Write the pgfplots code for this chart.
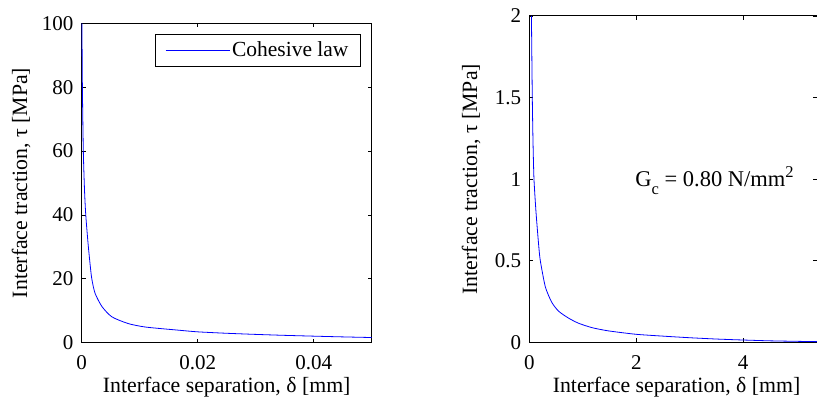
\documentclass[border=0pt]{standalone}
\usepackage{pgfplots}
\pgfplotsset{compat=1.18}
\usepackage{fontspec}
\setmainfont{Liberation Serif}
\pgfplotsset{
  every axis/.append style={
    scale only axis,
    axis line style={line width=1pt, black},
    every tick/.style={black, line width=0.8pt},
    tick align=inside,
    major tick length=4pt,
    /pgf/number format/assume math mode=true,
    scaled ticks=false,
    tick label style={font=\fontsize{21}{25}\selectfont},
    label style={font=\fontsize{21.8}{26}\selectfont},
    xticklabel style={yshift=-6pt},
    yticklabel style={xshift=-1pt},
  },
}
\begin{document}
\fontsize{21}{25}\selectfont
\begin{tikzpicture}
\useasboundingbox (-81.7pt,-56.3pt) rectangle (735.3pt,342.7pt);
\begin{axis}[
  at={(0pt,0pt)}, anchor=south west,
  width=290pt, height=319.4pt,
  xmin=0, xmax=0.05, ymin=0, ymax=100,
  xtick={0,0.02,0.04}, xticklabels={0,0.02,0.04},
  ytick={0,20,40,60,80,100},
  xlabel={Interface separation, δ [mm]},
  ylabel={Interface traction, τ [MPa]},
  xlabel style={at={(axis description cs:0.5,-0.14)}, anchor=center},
  ylabel style={at={(axis description cs:-0.209,0.5)}, anchor=center},
  legend style={at={(axis description cs:0.963,0.9656)}, anchor=north east,
    fill=white, line width=0.9pt, font=\fontsize{21.5}{25}\selectfont, inner xsep=10pt, inner ysep=5pt},
  legend image code/.code={\draw[#1, line width=0.8pt, draw=blue, color=blue] (0pt,0pt) -- (64pt,0pt);},
]
\addplot[blue, line width=0.8pt, smooth, tension=0.4] coordinates {
(0.00004,100)
(0.00012,80)
(0.00028,60)
(0.00048,48)
(0.0007,40)
(0.00115,30)
(0.0017,20.5)
(0.0023,15.5)
(0.0035,11.3)
(0.0052,8.1)
(0.008,6.0)
(0.011,4.9)
(0.0165,3.95)
(0.02,3.4)
(0.025,2.95)
(0.03,2.6)
(0.035,2.3)
(0.04,2.05)
(0.045,1.82)
(0.05,1.62)
};
\addlegendentry{Cohesive law}
\end{axis}
\begin{axis}[
  at={(447.6pt,0.4pt)}, anchor=south west,
  width=287.7pt, height=326.3pt,
  xmin=0, xmax=5.38, ymin=0, ymax=2,
  xtick={0,2,4},
  ytick={0,0.5,1,1.5,2},
  yticklabels={0,0.5,1,1.5,2},
  xlabel={Interface separation, δ [mm]},
  ylabel={Interface traction, τ [MPa]},
  xlabel style={at={(axis description cs:0.512,-0.137)}, anchor=center},
  ylabel style={at={(axis description cs:-0.2026,0.5)}, anchor=center},
]
\addplot[blue, line width=0.8pt, smooth, tension=0.4] coordinates {
(0.04,2.0)
(0.056,1.5)
(0.07,1.22)
(0.0875,1.0)
(0.125,0.8)
(0.174,0.6)
(0.206,0.5)
(0.30,0.34)
(0.42,0.245)
(0.55,0.19)
(0.735,0.148)
(0.92,0.117)
(1.17,0.09)
(1.48,0.07)
(2.0,0.049)
(2.54,0.037)
(3.0,0.028)
(3.5,0.02)
(4.0,0.014)
(4.5,0.009)
(5.0,0.006)
(5.38,0.004)
};
\node[anchor=base west, inner sep=0pt, font=\fontsize{22.5}{27}\selectfont] at (axis cs:1.98,0.953)
  {G\raisebox{-8pt}{\fontsize{16.5}{16.5}\selectfont c} = 0.80 N/mm\raisebox{9pt}{\fontsize{16.5}{16.5}\selectfont 2}};
\end{axis}
\end{tikzpicture}
\end{document}
